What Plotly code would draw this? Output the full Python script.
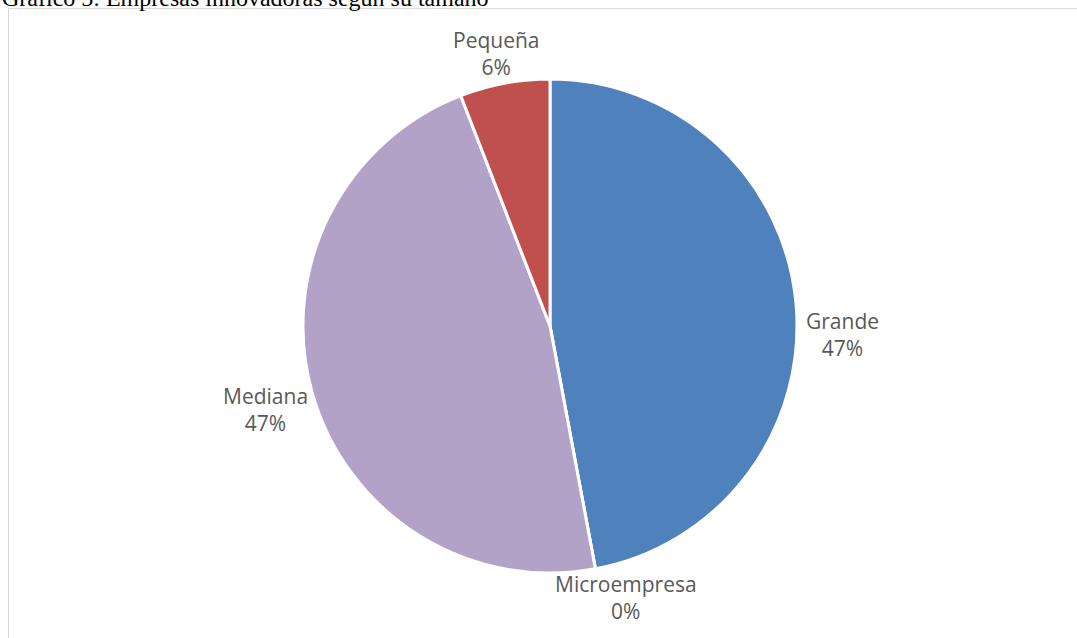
import math
import plotly.graph_objects as go

# Firms that innovate, by company size
labels = ["Grande", "Microempresa", "Mediana", "Pequeña"]
counts = [8, 0, 8, 1]
colors = ["#4F81BD", "#9BBB59", "#B3A2C8", "#C0504D"]

title_text = "Gráfico 5: Empresas innovadoras según su tamaño"

W, H = 1077, 638
cx, cy, r = 550, 326, 247  # pie centre and radius in pixels
label_gap = 8              # distance of the data labels from the rim
# fine placement of each data label (pixels right, pixels down)
label_nudge = {
    "Grande": (0, 32),
    "Microempresa": (29, -9),
    "Mediana": (5, 14),
    "Pequeña": (-7, 8),
}

fig = go.Figure(
    go.Pie(
        labels=labels,
        values=counts,
        sort=False,
        direction="clockwise",
        rotation=0,
        marker=dict(colors=colors, line=dict(color="white", width=3)),
        textinfo="none",
        showlegend=False,
        hoverinfo="label+percent",
        domain=dict(
            x=[(cx - r) / W, (cx + r) / W],
            y=[1 - (cy + r) / H, 1 - (cy - r) / H],
        ),
    )
)

# Data labels placed just outside each slice, at its mid-angle
total = sum(counts)
annotations = []
cum = 0.0
for lab, v in zip(labels, counts):
    mid = (cum + v / 2) / total * 2 * math.pi  # clockwise from 12 o'clock
    cum += v
    ux, uy = math.sin(mid), math.cos(mid)  # uy points up
    d = r + label_gap
    px = cx + ux * d
    py = cy - uy * d
    xanchor = "left" if ux > 0.5 else ("right" if ux < -0.5 else "center")
    yanchor = "bottom" if uy > 0.5 else ("top" if uy < -0.5 else "middle")
    nx, ny = label_nudge[lab]
    annotations.append(
        dict(
            text=f"{lab}<br>{v / total:.0%}",
            xref="paper",
            yref="paper",
            x=px / W,
            y=1 - py / H,
            xanchor=xanchor,
            yanchor=yanchor,
            xshift=nx,
            yshift=-ny,
            showarrow=False,
            align="center",
            font=dict(family="Open Sans", size=21, color="#595959"),
        )
    )

annotations.append(
    dict(
        text=title_text,
        xref="paper",
        yref="paper",
        x=0,
        y=1,
        xanchor="left",
        yanchor="middle",
        yshift=2.5,
        showarrow=False,
        font=dict(family="Liberation Serif", size=24, color="black"),
    )
)

fig.update_layout(
    width=W,
    height=H,
    margin=dict(l=0, r=0, t=0, b=0),
    paper_bgcolor="white",
    plot_bgcolor="white",
    shapes=[
        dict(
            type="rect",
            xref="paper",
            yref="paper",
            x0=8.5 / W,
            x1=1.05,
            y0=-0.05,
            y1=1 - 8.5 / H,
            line=dict(color="#D9D9D9", width=1),
            fillcolor="rgba(0,0,0,0)",
            layer="below",
        )
    ],
    annotations=annotations,
)

fig.write_html("out.html")
